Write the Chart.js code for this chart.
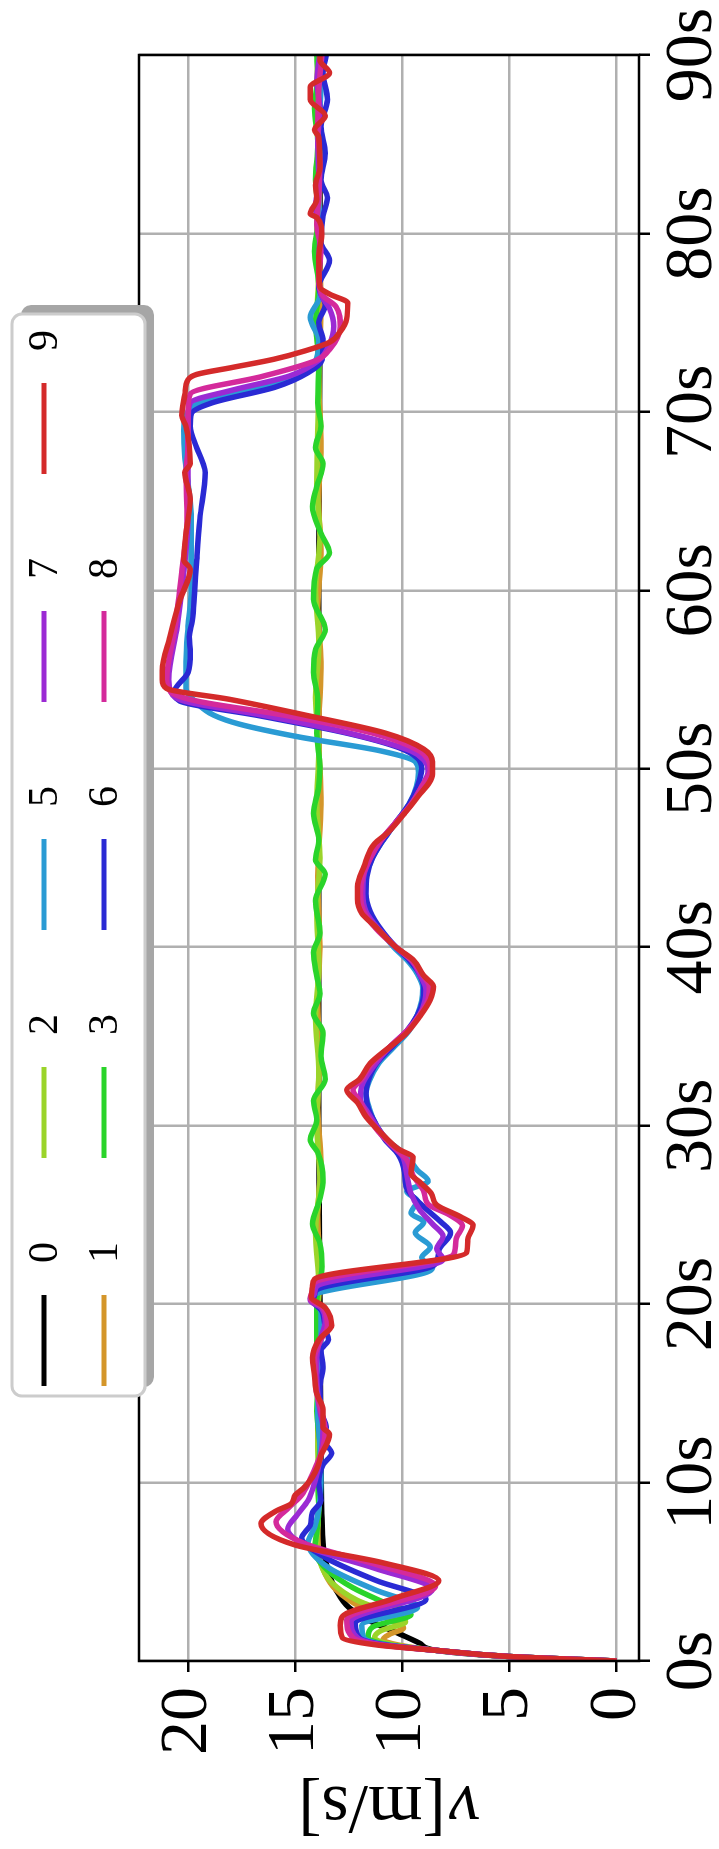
<!DOCTYPE html>
<html>
<head>
<meta charset="utf-8">
<script src="https://cdn.jsdelivr.net/npm/chart.js@4"></script>
<style>
  html, body { margin: 0; padding: 0; background: #fff; overflow: hidden; }
  body { width: 719px; height: 1849px; position: relative; }
  /* chart is drawn landscape, then turned a quarter left */
  #wrap { position: absolute; left: 0; top: 0; width: 1849px; height: 719px;
          transform-origin: 0 0; transform: translateY(1849px) rotate(-90deg); }
  .warm { position: absolute; left: -5000px; top: 0; font-family: "Liberation Serif"; font-size: 20px; }
</style>
</head>
<body>
<span class="warm">0123456789s[m/s] <i>v</i></span>
<div id="wrap"><canvas id="myChart" width="1849" height="719"></canvas></div>
<script>
let labels = ['0', '1', '2', '3', '5', '6', '7', '8', '9'];
let colors = ['#000000', '#d4962a', '#9bd42a', '#2ad42a', '#2a9bd4', '#2a2ad4', '#9b2ad4', '#d42a9b', '#d42a2a'];
let xTicks = [0, 10, 20, 30, 40, 50, 60, 70, 80, 90];
let yTicks = [0, 5, 10, 15, 20];

// [time s, speed m/s]
let s0 = [[0,0],[0.25,5],[0.6,8.45],[1,9.2],[1.5,10.1],[2.3,11.6],[3,12.5],[4,13.1],[5,13.45],[6,13.65],[8,13.75],[12,13.8],[20,13.85],[30,13.9],[45,13.9],[60,13.9],[75,13.85],[90,13.85]];

let s1 = [[0,0],[0.25,5],[0.6,8.45],[0.9,10.2],[1.2,10.9],[1.5,10.6],[1.85,9.95],[2.3,10.5],[3,11.9],[4,13.1],[5,13.65],[6,13.9],[7.5,13.95],[10,13.85],[13,13.95],[16,13.85],[19,13.95],[22,13.85],[25,13.95],[28,13.8],[31,13.95],[34,13.85],[37,13.95],[40,13.85],[44,13.95],[48,13.8],[52,13.9],[56,13.8],[59,13.95],[62,13.8],[65,13.9],[68,13.8],[72,13.9],[76,13.8],[80,13.9],[84,13.85],[87,13.95],[90,13.85]];

let s2 = [[0,0],[0.25,5],[0.6,8.45],[0.9,10.4],[1.3,11.3],[1.7,11.0],[2.2,9.85],[2.7,10.6],[3.4,12.1],[4.4,13.3],[5.4,13.8],[6.5,14.0],[7.5,13.95],[9,13.9],[12,13.95],[15,13.9],[18,14.0],[21,13.9],[24,14.05],[27,13.85],[30,14.0],[33,13.9],[36,14.05],[39,13.9],[42,14.0],[45,13.85],[48,14.0],[51,13.9],[54,14.05],[57,13.9],[60,14.05],[63,13.85],[66,14.0],[69,13.95],[72,13.9],[75,14.0],[78,13.9],[81,14.0],[84,13.9],[87,14.0],[90,13.95]];

let s3 = [[0,0],[0.25,5],[0.6,8.45],[0.9,10.6],[1.3,11.6],[1.9,11.4],[2.6,9.6],[3.2,10.7],[4.1,12.3],[5.1,13.5],[6.2,14.1],[7.2,14.0],[8.5,13.9],[10,13.95],[12,13.85],[14,14.0],[16,13.9],[18,14.0],[20.2,14.0],[21.5,13.8],[22.1,13.75],[23.4,13.85],[24.5,14.2],[25.9,13.85],[27.0,13.7],[28.5,13.95],[29.2,14.3],[30.3,14.0],[31.4,14.15],[32.6,13.6],[33.9,13.8],[35.2,13.7],[36.3,14.15],[37.4,13.85],[38.4,14.0],[39.7,14.15],[40.8,13.85],[42.6,14.05],[44.1,13.6],[44.9,14.05],[46.0,13.9],[47.5,14.15],[49,13.9],[50.1,13.85],[52,14.0],[53.9,13.95],[55.4,14.15],[56.7,14.05],[57.8,13.6],[59.5,14.15],[61.2,14.0],[62.1,13.4],[63.2,13.8],[64.7,14.2],[65.8,14.0],[67.1,13.7],[68.0,14.05],[69.2,13.8],[70.5,13.95],[72.9,13.9],[75,14.05],[77,13.9],[79,14.1],[81,13.9],[83,14.05],[85,13.95],[87,14.1],[89,13.95],[90,14.0]];

let s5 = [[0,0],[0.25,5],[0.6,8.45],[0.9,10.7],[1.3,11.8],[2.0,11.9],[3.0,9.3],[4.0,11.3],[5.2,13.4],[6.6,14.4],[7.5,14.1],[8.5,13.9],[10,13.8],[12,13.85],[14,13.95],[16,13.9],[18,13.8],[19.5,13.8],[20.0,14.0],[20.3,14.3],[20.6,14.0],[22.0,8.6],[22.6,9.1],[23.2,8.7],[24.0,9.4],[24.6,9.0],[25.1,9.6],[25.8,9.3],[26.3,9.8],[26.9,8.8],[27.5,9.3],[28.3,9.8],[29.2,10.7],[30,11.2],[31.0,11.55],[31.8,11.7],[32.5,11.55],[33.5,11.1],[34.4,10.4],[35.3,9.7],[36.2,9.3],[37.0,9.1],[37.7,9.05],[38.5,9.3],[39.3,9.8],[40,10.4],[41,11.05],[42,11.55],[43,11.75],[44,11.7],[45,11.4],[46,10.9],[47,10.3],[48,9.7],[49,9.35],[49.8,9.25],[50.4,9.4],[51,11.0],[51.8,14.9],[52.5,17.6],[53.0,18.8],[53.7,19.6],[54.5,20.1],[56,20.1],[58,20.0],[60,19.85],[62,19.85],[64,19.85],[66,20.0],[67.5,20.15],[69,20.2],[70,20.0],[70.6,19.3],[71.4,16.5],[72.2,14.6],[73,14.0],[74,13.9],[75.3,14.3],[76.5,13.85],[78,13.9],[80,13.8],[82,13.9],[84,13.85],[86,13.9],[88,13.8],[90,13.85]];

let s6 = [[0,0],[0.25,5],[0.6,8.45],[0.9,10.8],[1.3,12.0],[2.1,12.2],[3.45,8.9],[4.5,11.2],[5.8,13.6],[6.9,14.7],[7.6,14.3],[8.3,14.2],[9.0,13.8],[10,13.9],[11,13.7],[11.65,13.3],[12.4,13.7],[13.1,13.55],[14,13.8],[15.4,13.85],[16.5,13.7],[17.4,13.8],[18,13.45],[18.6,13.6],[19.6,13.75],[20.2,14.2],[20.5,14.1],[20.8,14.0],[22.2,8.5],[23.0,8.3],[24.0,7.75],[24.6,8.2],[25.45,9.0],[26.5,9.8],[27.4,9.9],[28.4,10.2],[29.2,10.8],[30,11.2],[31.0,11.6],[31.8,11.7],[32.5,11.6],[33.5,11.2],[34.4,10.5],[35.3,9.8],[36.2,9.3],[37.0,9.05],[37.7,9.0],[38.5,9.2],[39.3,9.7],[40,10.3],[41,11.0],[42,11.5],[43,11.7],[44,11.65],[45,11.4],[46,10.9],[47,10.3],[48,9.7],[49,9.3],[50,9.1],[50.6,9.3],[51.2,10.2],[52,12.6],[53,16.8],[53.8,20.4],[54.3,20.65],[55.4,20.0],[56.5,19.9],[57.4,19.95],[58.3,19.8],[59.8,19.7],[61.7,19.6],[64,19.45],[66.6,19.2],[67.1,19.3],[68,19.6],[69.2,19.9],[69.9,19.85],[70.5,18.9],[71.4,15.9],[72.2,14.4],[72.9,13.75],[74,13.7],[75,13.9],[76,13.6],[77,13.9],[78.5,13.4],[79.5,13.8],[81,13.7],[82,13.5],[83,13.8],[84.5,13.6],[86,13.8],[87.5,13.5],[89,13.7],[90,13.55]];

let s7 = [[0,0],[0.25,5],[0.6,8.45],[0.9,10.9],[1.3,12.1],[2.2,12.4],[4.0,8.6],[5.2,11.3],[6.3,14.2],[7.4,15.35],[8.2,14.9],[9.0,14.4],[10,14.1],[11,13.9],[12,13.75],[13,13.7],[14,13.85],[15,13.95],[16,14.0],[17,14.0],[18,13.85],[19,13.6],[19.8,13.8],[20.2,14.3],[20.6,14.1],[21.0,14.0],[22.5,8.1],[23.1,8.4],[23.8,8.1],[24.5,8.6],[25.3,9.2],[26.2,9.6],[27.3,9.8],[28.3,10.0],[29.0,10.6],[29.8,11.1],[30.7,11.6],[31.5,11.95],[32.2,11.9],[33.4,11.3],[34.4,10.6],[35.3,9.8],[36.2,9.2],[37.0,8.95],[37.6,8.9],[38.5,9.2],[39.3,9.6],[40,10.3],[41,11.1],[42,11.7],[43,11.85],[44,11.8],[45,11.5],[46,11.0],[47,10.3],[48,9.6],[49,9.1],[49.9,8.8],[50.5,9.0],[51.0,9.6],[52,12.5],[53,16.5],[53.8,20.2],[54.3,20.8],[55,20.9],[58,20.5],[61,20.2],[64,20.0],[67,20.0],[69.5,20.0],[70.5,19.9],[71.2,18.0],[72.0,15.3],[72.9,13.9],[73.8,13.4],[74.8,13.2],[75.8,13.4],[76.6,13.8],[78,13.9],[80,13.85],[81.5,14.05],[83,13.9],[85,13.95],[87,13.85],[88.5,14.0],[90,13.85]];

let s8 = [[0,0],[0.25,5],[0.6,8.45],[0.9,11.0],[1.3,12.3],[2.3,12.6],[4.2,8.45],[5.4,11.2],[6.6,14.6],[7.8,15.9],[8.6,15.3],[9.3,14.7],[10.2,14.3],[11,14.0],[12,13.7],[13,13.6],[14,13.8],[15,14.0],[16,14.05],[17,14.1],[18,13.8],[18.8,13.5],[19.8,13.7],[20.3,14.3],[20.8,14.2],[21.2,14.1],[22.8,7.6],[23.6,7.5],[24.4,7.2],[25.0,7.8],[25.6,8.8],[26.3,9.0],[27.2,9.5],[28.1,9.8],[28.8,10.4],[29.5,11.0],[30.5,11.6],[31.4,12.0],[32.0,12.3],[32.6,11.9],[33.5,11.4],[34.4,10.6],[35.3,9.8],[36.2,9.2],[37.1,8.8],[37.8,8.75],[38.5,9.1],[39.3,9.6],[40,10.3],[41,11.2],[42,11.8],[43,11.95],[44,11.85],[45,11.5],[46,11.0],[47,10.3],[48,9.6],[49,9.1],[49.9,8.7],[50.5,8.8],[51.0,9.2],[52.0,11.4],[53.0,15.5],[53.8,19.6],[54.3,20.8],[55.0,21.0],[58,20.6],[61,20.3],[64,20.05],[66.6,20.1],[68,20.0],[70.0,20.0],[71.0,19.9],[72.0,16.5],[72.9,14.0],[73.5,13.4],[74.8,12.9],[75.9,13.1],[76.5,13.7],[77.5,13.9],[79,13.8],[80.5,14.0],[82,13.9],[84,13.85],[86,13.95],[88,13.9],[90,13.75]];

let s9 = [[0,0],[0.25,5],[0.6,8.45],[0.9,11.2],[1.3,12.8],[2.0,12.9],[2.5,12.8],[3.5,10.4],[4.5,8.3],[5.5,10.9],[6.5,15.0],[7.7,16.6],[8.4,15.9],[8.8,15.2],[9.3,15.0],[9.7,14.6],[10.3,14.2],[10.9,13.95],[11.5,13.8],[12.7,13.4],[13.1,13.7],[14.1,13.7],[15,14.0],[16,14.1],[17,14.2],[18,13.9],[18.8,13.3],[19.8,13.6],[20.4,14.25],[21.0,14.2],[21.4,14.1],[22.9,7.0],[23.6,6.95],[24.4,6.7],[24.9,7.3],[25.55,8.4],[26.2,8.65],[26.85,9.2],[27.3,9.6],[28.2,9.5],[28.7,10.2],[29.6,11.0],[30.5,11.7],[31.3,12.1],[32.0,12.6],[32.6,12.0],[33.5,11.5],[34.4,10.6],[35.2,9.8],[36.1,9.2],[37.05,8.7],[37.8,8.55],[38.4,9.0],[39.3,9.5],[40.0,10.3],[41.2,11.3],[41.9,11.9],[42.7,12.1],[43.4,12.1],[44.5,11.8],[45.8,11.3],[46.4,10.7],[47.5,9.9],[48.4,9.3],[49.7,8.6],[50.4,8.6],[51.1,9.0],[52.0,10.8],[53.0,14.5],[53.9,18.1],[54.5,21.0],[55.0,21.2],[55.5,21.2],[57.4,20.85],[59.4,20.4],[61.2,19.9],[61.7,20.2],[63.2,20.1],[65.1,19.9],[66.6,20.15],[67.1,19.9],[69.2,20.1],[69.8,20.3],[71.0,20.15],[71.8,20.0],[72.1,19.6],[72.5,17.9],[72.95,16.0],[73.4,14.6],[73.9,13.4],[74.5,12.9],[75.2,12.6],[76.1,12.55],[76.6,13.4],[77.0,13.85],[78.7,13.9],[80.0,13.76],[80.9,14.0],[81.1,14.3],[81.9,14.0],[82.7,14.05],[83.7,13.85],[85.4,13.9],[85.8,14.1],[86.6,13.6],[87.5,14.3],[88.2,14.3],[89.0,13.4],[89.7,13.85],[90,13.85]];

let series = [s0, s1, s2, s3, s5, s6, s7, s8, s9];

let serif = '"Liberation Serif"';

let datasets = series.map(function(s, i){
	return {
		label: labels[i],
		data: s.map(function(p){ return {x: p[0], y: p[1]}; }),
		borderColor: colors[i],
		backgroundColor: colors[i],
		borderWidth: 5.5,
		pointRadius: 0,
		cubicInterpolationMode: 'monotone',
		borderJoinStyle: 'round',
		order: series.length - 1 - i   // last series on top
	};
});

function boxPath(ctx, x, y, w, h, r){
	ctx.beginPath();
	if (ctx.roundRect) { ctx.roundRect(x, y, w, h, r); }
	else { ctx.rect(x, y, w, h); }
}

/* spines, legend box and y title */
let extras = {
	id: 'extras',
	afterDraw: function(chart){
		let ctx = chart.ctx;
		let a = chart.chartArea;
		ctx.save();
		ctx.strokeStyle = '#000';
		ctx.lineWidth = 2.5;
		ctx.strokeRect(a.left, a.top, a.right - a.left, a.bottom - a.top);

		// legend
		let bx = 453, by = 12, bw = 1082, bh = 133;
		ctx.fillStyle = '#a6a6a6';
		boxPath(ctx, bx + 9, by + 9, bw, bh, 10);
		ctx.fill();
		ctx.fillStyle = '#fff';
		boxPath(ctx, bx, by, bw, bh, 10);
		ctx.fill();
		ctx.strokeStyle = '#cccccc';
		ctx.lineWidth = 3;
		ctx.stroke();

		ctx.font = '42px ' + serif;
		ctx.textBaseline = 'middle';
		ctx.textAlign = 'left';
		chart.data.datasets.forEach(function(ds, i){
			let col = Math.floor(i / 2), row = i % 2;
			let x0 = 463 + col * 228, y0 = 44 + row * 60;
			ctx.strokeStyle = ds.borderColor;
			ctx.lineWidth = 5;
			ctx.lineCap = 'butt';
			ctx.beginPath();
			ctx.moveTo(x0, y0);
			ctx.lineTo(x0 + 91, y0);
			ctx.stroke();
			ctx.fillStyle = '#000';
			ctx.fillText(ds.label, x0 + 123, y0 + 2);
		});

		// y title: italic v, upright unit
		ctx.translate(44, (a.top + a.bottom) / 2);
		ctx.rotate(-Math.PI / 2);
		let f1 = 'italic 70px ' + serif, f2 = '70px ' + serif;
		ctx.font = f1;
		let w1 = ctx.measureText('v').width + 3;
		ctx.font = f2;
		let w2 = ctx.measureText('[m/s]').width;
		let sx = -(w1 + w2) / 2;
		ctx.fillStyle = '#000';
		ctx.font = f1;
		ctx.fillText('v', sx, 0);
		ctx.font = f2;
		ctx.fillText('[m/s]', sx + w1, 0);
		ctx.restore();
	}
};

let gridOpts = {
	color: '#b0b0b0',
	lineWidth: 2.5,
	tickColor: '#000',
	tickLength: 11,
	tickWidth: 2.5
};

let config = {
	type: 'line',
	data: { datasets: datasets },
	options: {
		responsive: false,
		animation: false,
		devicePixelRatio: 1,
		layout: { padding: { top: 139, right: 55, left: 0, bottom: 0 } },
		plugins: { legend: { display: false }, tooltip: { enabled: false } },
		scales: {
			x: {
				type: 'linear',
				min: 0,
				max: 90,
				afterBuildTicks: function(scale){ scale.ticks = xTicks.map(function(v){ return {value: v}; }); },
				afterFit: function(scale){ scale.height = 80; },
				grid: gridOpts,
				border: { display: false },
				ticks: {
					autoSkip: false,
					maxRotation: 0,
					padding: 2,
					color: '#000',
					font: { family: serif, size: 68 },
					callback: function(v){ return v + 's'; }
				}
			},
			y: {
				type: 'linear',
				min: -1.04,
				max: 22.29,
				afterBuildTicks: function(scale){ scale.ticks = yTicks.map(function(v){ return {value: v}; }); },
				afterFit: function(scale){ scale.width = 188; },
				grid: gridOpts,
				border: { display: false },
				ticks: {
					padding: 15,
					color: '#000',
					font: { family: serif, size: 68 }
				}
			}
		}
	},
	plugins: [extras]
};

// make sure the serif face is ready before the canvas text is drawn
let myChart = null;
function draw(){
	if (myChart) return;
	myChart = new Chart(document.getElementById('myChart'), config);
}
Promise.all([
	document.fonts.load('68px "Liberation Serif"'),
	document.fonts.load('italic 68px "Liberation Serif"')
]).then(draw, draw);
setTimeout(draw, 1500);
</script>
</body>
</html>
